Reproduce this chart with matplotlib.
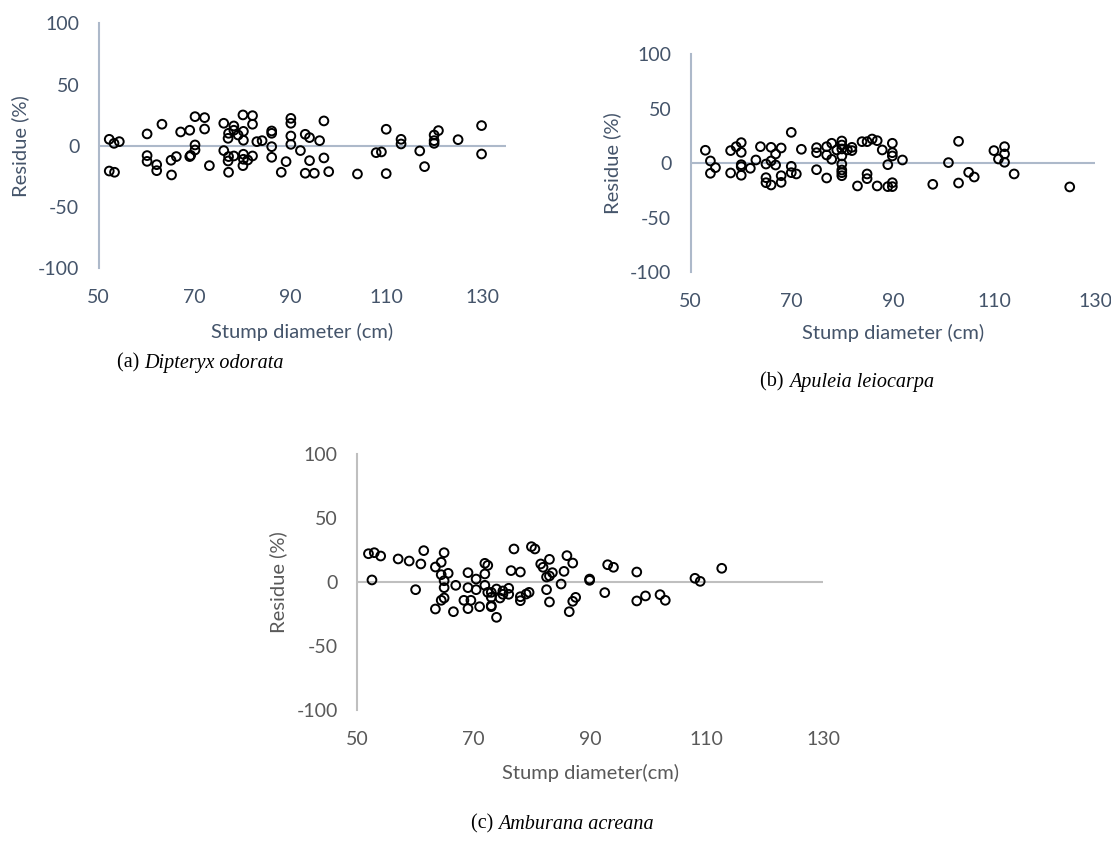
import matplotlib
matplotlib.use("Agg")
import matplotlib.pyplot as plt

plt.rcParams["axes.unicode_minus"] = False

# ---------------- data ----------------
# (a) Dipteryx odorata
a_x = [52.2, 52.2, 53.2, 53.3, 54.3, 60.1, 60.1, 60.1, 62.1, 62.1, 63.2, 65.1, 65.2, 66.2,
       67.1, 69.0, 69.0, 69.2, 70.1, 70.1, 70.1, 72.1, 72.1, 73.1, 76.1, 76.1, 77.1, 77.0,
       77.1, 77.0, 77.1, 78.2, 78.2, 78.2, 79.1, 80.1, 80.2, 80.2, 80.2, 80.2, 80.1, 81.1,
       82.1, 82.1, 82.1, 83.0, 84.1, 86.1, 86.1, 86.1, 86.1, 88.1, 89.1, 90.1, 90.1, 90.1,
       90.1, 92.1, 93.1, 93.1, 94.0, 94.0, 95.0, 96.1, 97.0, 97.0, 98.0, 104.0, 107.9, 109.0,
       110.0, 110.0, 113.1, 113.1, 117.0, 118.0, 120.0, 120.0, 120.0, 120.9, 125.0, 129.9, 129.9]
a_y = [5.3, -20.6, 2.0, -21.6, 3.4, 9.7, -8.0, -12.7, -15.4, -20.3, 17.6, -11.8, -23.8, -8.8,
       11.3, 12.7, -8.8, -7.8, 23.8, 0.7, -3.4, 23.0, 13.7, -16.2, 18.4, -3.9, 10.2, 6.1,
       -8.8, -12.4, -21.6, 16.2, 12.7, -8.3, 8.8, 25.2, 11.8, 4.5, -6.9, -11.0, -16.2, -11.6,
       24.6, 17.6, -8.3, 3.4, 4.2, 12.1, 10.2, -0.7, -9.4, -21.6, -12.9, 22.4, 18.4, 8.0,
       1.2, -3.9, 9.4, -22.4, 6.7, -12.1, -22.4, 4.2, 20.3, -9.9, -21.1, -23.0, -5.6, -5.0,
       13.5, -22.7, 5.3, 1.5, -4.2, -17.0, 8.8, 4.2, 2.0, 12.4, 5.0, 16.5, -6.7]

# (b) Apuleia leiocarpa
b_x = [52.9, 53.9, 53.9, 54.9, 57.9, 57.9, 59.0, 60.0, 60.0, 60.0, 60.0, 60.0, 61.8, 62.9,
       63.8, 64.9, 64.9, 64.9, 65.9, 65.9, 65.9, 66.8, 66.8, 67.9, 67.9, 67.9, 69.9, 69.9,
       69.9, 70.9, 71.9, 74.9, 74.9, 74.9, 76.9, 76.9, 76.9, 77.9, 77.9, 78.9, 79.9, 79.9,
       79.9, 79.9, 79.9, 79.9, 79.9, 79.9, 81.0, 81.9, 81.9, 83.0, 83.9, 84.9, 84.9, 84.9,
       85.9, 86.9, 86.9, 87.9, 89.0, 89.0, 89.9, 89.9, 89.9, 89.9, 89.9, 91.9, 97.9, 101.0,
       103.0, 103.0, 105.0, 106.1, 110.0, 110.9, 112.1, 112.1, 112.1, 114.0, 125.0]
b_y = [11.8, 2.0, -9.3, -4.1, 11.5, -9.0, 15.1, 18.8, 9.9, -1.4, -3.2, -11.1, -4.7, 2.9,
       15.1, -0.8, -13.3, -17.9, 14.5, 2.0, -20.0, 8.4, -1.7, 13.9, -11.5, -17.6, 28.2, -2.9,
       -8.7, -9.9, 12.7, 14.2, 9.6, -6.0, 15.1, 7.5, -13.6, 18.2, 3.5, 12.1, 20.3, 16.6,
       13.0, 6.6, -0.8, -6.3, -8.7, -11.5, 12.1, 14.5, 11.5, -20.9, 19.7, 19.7, -9.9, -14.2,
       22.1, 20.6, -20.9, 12.1, -1.4, -21.5, 18.2, 9.6, 6.6, -17.9, -21.5, 2.9, -19.4, 0.5,
       20.0, -18.2, -8.4, -12.7, 11.5, 3.8, 15.1, 8.4, 0.8, -9.9, -21.8]

# (c) Amburana acreana
c_x = [51.9, 52.9, 54.0, 52.5, 57.0, 58.9, 60.0, 60.9, 61.4, 63.4, 63.4, 64.4, 64.4, 64.9,
       64.9, 64.9, 64.9, 64.4, 65.6, 66.5, 66.9, 69.0, 69.0, 69.0, 68.3, 69.5, 70.4, 70.4,
       71.0, 71.9, 72.4, 71.9, 71.9, 72.4, 73.0, 73.0, 73.0, 73.0, 73.9, 73.9, 74.5, 75.0,
       75.0, 76.0, 76.0, 76.4, 76.9, 78.0, 78.0, 78.0, 79.0, 79.5, 79.9, 80.5, 81.5, 81.9,
       82.5, 82.5, 83.0, 83.0, 83.0, 83.5, 85.0, 85.5, 86.0, 86.4, 87.0, 87.0, 87.5, 89.9,
       89.9, 92.5, 93.0, 94.0, 98.0, 98.0, 99.5, 102.0, 102.9, 108.0, 108.9, 112.6]
c_y = [22.1, 22.9, 20.3, 1.6, 18.0, 16.4, -6.0, 14.1, 24.5, 11.7, -21.1, 15.4, 5.7, 22.9,
       1.0, -4.4, -12.5, -14.3, 6.8, -23.2, -2.6, 7.3, -4.4, -20.8, -14.3, -14.3, 2.3, -6.0,
       -19.3, 14.6, 13.0, 6.3, -2.6, -8.1, -8.1, -12.0, -18.5, -19.3, -5.5, -27.6, -12.5, -7.0,
       -9.6, -4.9, -9.6, 8.9, 25.8, 7.8, -11.5, -14.6, -9.4, -8.1, 27.6, 25.8, 14.1, 11.5,
       3.9, -6.0, 17.7, 4.7, -15.6, 7.3, -1.6, 8.3, 20.6, -23.2, 14.8, -15.1, -12.0, 2.3,
       1.3, -8.3, 13.5, 11.5, 7.8, -14.8, -10.9, -9.9, -14.3, 2.9, 0.5, 10.7]

x_ticks = [50, 70, 90, 110, 130]
y_ticks = [-100, -50, 0, 50, 100]
x_label_ab = "Stump diameter (cm)"
x_label_c = "Stump diameter(cm)"
y_label = "Residue (%)"

# ---------------- styling ----------------
W, H = 1111, 846
fig = plt.figure(figsize=(W / 100, H / 100), dpi=100)
FONT = "Lato"
FS = 14.0

def px_axes(left, top, right, bottom):
    return fig.add_axes([left / W, 1 - bottom / H, (right - left) / W, (bottom - top) / H])

def style(ax, xs, ys, xmax, txt_col, ax_col, xlabel, ylab_x, xlab_y):
    ax.scatter(xs, ys, s=6.3 ** 2, facecolors="none", edgecolors="black",
               linewidths=1.4, zorder=3, clip_on=False)
    ax.set_xlim(50, xmax)
    ax.set_ylim(-100, 100)
    for s in ["top", "right", "bottom"]:
        ax.spines[s].set_visible(False)
    ax.spines["left"].set_color(ax_col)
    ax.spines["left"].set_linewidth(1.5)
    ax.axhline(0, color=ax_col, lw=1.5, zorder=1)
    ax.set_xticks(x_ticks)
    ax.set_yticks(y_ticks)
    ax.tick_params(axis="both", length=0, labelsize=FS, labelcolor=txt_col)
    ax.tick_params(axis="x", pad=15)
    ax.tick_params(axis="y", pad=14)
    for lab in ax.get_xticklabels() + ax.get_yticklabels():
        lab.set_fontfamily(FONT)
    ax.set_xlabel(xlabel, fontsize=14.5, color=txt_col, fontfamily=FONT, va="center")
    ax.set_ylabel(y_label, fontsize=14.5, color=txt_col, fontfamily=FONT, va="center")
    ax.yaxis.set_label_coords(ylab_x, 0.5)
    ax.xaxis.set_label_coords(0.5, xlab_y)
    ax.patch.set_alpha(0)

blue_txt, blue_ax = "#44546A", "#ADB9CA"
grey_txt, grey_ax = "#595959", "#BFBFBF"

# panel a
ax1 = px_axes(98.7, 23.3, 506, 268.3)
style(ax1, a_x, a_y, 135, blue_txt, blue_ax, x_label_ab,
      (20 - 98.7) / 407.3, -(332 - 268.3) / 245)

# panel b
ax2 = px_axes(690.7, 54, 1095, 272.3)
style(ax2, b_x, b_y, 130, blue_txt, blue_ax, x_label_ab,
      (612 - 690.7) / 404.3, -(333 - 272.3) / 218.3)

# panel c
ax3 = px_axes(357.4, 454, 823, 710)
style(ax3, c_x, c_y, 130, grey_txt, grey_ax, x_label_c,
      (278.6 - 357.4) / 465.6, -(773 - 710) / 256)

# captions (centred at given pixel positions)
CFS = 14.5
fig.canvas.draw()
renderer = fig.canvas.get_renderer()

def caption(xc, yc, letter, name):
    t1 = fig.text(0, 1 - yc / H, f"({letter}) ", ha="left", va="center",
                  fontsize=CFS, fontfamily="Liberation Serif", color="black")
    t2 = fig.text(0, 1 - yc / H, name, ha="left", va="center",
                  fontsize=CFS, fontfamily="Liberation Serif", style="italic", color="black")
    w1 = t1.get_window_extent(renderer).width
    w2 = t2.get_window_extent(renderer).width
    x0 = xc - (w1 + w2) / 2
    t1.set_x(x0 / W)
    t2.set_x((x0 + w1) / W)

caption(200, 363, "a", "Dipteryx odorata")
caption(847, 382, "b", "Apuleia leiocarpa")
caption(562, 824, "c", "Amburana acreana")

fig.savefig("out.png", dpi=100)
